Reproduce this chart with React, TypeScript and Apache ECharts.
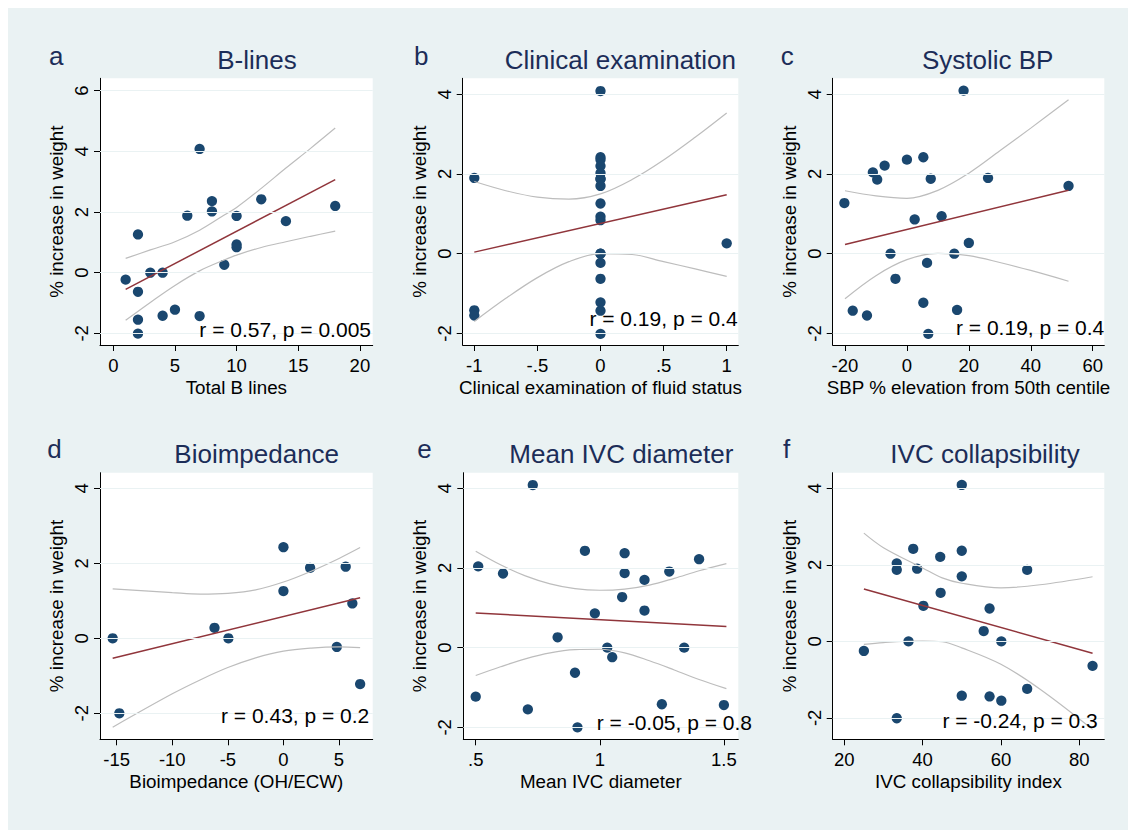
import React, { useEffect, useRef } from "react";
import * as echarts from "echarts";

// ---------- data ----------
const LETTERS = ["a", "b", "c", "d", "e", "f"];
const TITLES = ["B-lines", "Clinical examination", "Systolic BP", "Bioimpedance", "Mean IVC diameter", "IVC collapsibility"];
const X_TITLES = [
  "Total B lines",
  "Clinical examination of fluid status",
  "SBP % elevation from 50th centile",
  "Bioimpedance (OH/ECW)",
  "Mean IVC diameter",
  "IVC collapsibility index",
];
const Y_TITLE = "% increase in weight";
const STATS = [
  "r = 0.57, p = 0.005",
  "r = 0.19, p = 0.4",
  "r = 0.19, p = 0.4",
  "r = 0.43, p = 0.2",
  "r = -0.05, p = 0.8",
  "r = -0.24, p = 0.3",
];

const X_TICKS = [
  [0, 5, 10, 15, 20],
  [-1, -0.5, 0, 0.5, 1],
  [-20, 0, 20, 40, 60],
  [-15, -10, -5, 0, 5],
  [0.5, 1, 1.5],
  [20, 40, 60, 80],
];
const Y_TICKS = [
  [-2, 0, 2, 4, 6],
  [-2, 0, 2, 4],
  [-2, 0, 2, 4],
  [-2, 0, 2, 4],
  [-2, 0, 2, 4],
  [-2, 0, 2, 4],
];
const X_RANGE = [
  [-1.08, 21.04],
  [-1.092, 1.092],
  [-23.97, 63.75],
  [-16.5, 8.03],
  [0.45, 1.558],
  [17.04, 86.4],
];
const Y_RANGE = [
  [-2.385, 6.41],
  [-2.29, 4.4],
  [-2.29, 4.4],
  [-2.693, 4.416],
  [-2.3, 4.39],
  [-2.56, 4.41],
];

// panel a: B-lines
const xA = [1, 2, 2, 2, 2, 3, 4, 4, 5, 6, 7, 7, 8, 8, 9, 10, 10, 10, 12, 14, 18];
const yA = [-0.23, 1.26, -0.63, -1.55, -2.01, 0, 0, -1.42, -1.22, 1.88, 4.08, -1.43, 2.36, 2.02, 0.26, 1.87, 0.93, 0.84, 2.42, 1.7, 2.2];
const fitXA = [1, 18];
const fitYA = [-0.55, 3.07];
const ciXA = [1, 3, 5, 7, 9, 10, 12, 14, 16, 18];
const ciHiA = [0.47, 0.75, 1.02, 1.4, 1.9, 2.15, 2.78, 3.45, 4.1, 4.77];
const ciLoA = [-1.57, -0.98, -0.42, 0.06, 0.42, 0.58, 0.83, 1.02, 1.2, 1.37];

// panel b: clinical examination
const xB = [-1, -1, -1, 0, 0, 0, 0, 0, 0, 0, 0, 0, 0, 0, 0, 0, 0, 0, 0, 0, 0, 1];
const yB = [1.9, -1.42, -1.55, 4.08, 2.42, 2.36, 2.2, 2.02, 1.88, 1.87, 1.7, 1.26, 0.93, 0.84, 0, 0, -0.23, -0.63, -1.22, -1.43, -2.01, 0.26];
const fitXB = [-1, 1];
const fitYB = [0.04, 1.48];
const ciXB = [-1, -0.75, -0.5, -0.25, 0, 0.25, 0.5, 0.75, 1];
const ciHiB = [1.81, 1.58, 1.42, 1.37, 1.5, 1.86, 2.35, 2.92, 3.53];
const ciLoB = [-1.7, -1.12, -0.6, -0.2, 0.0, -0.02, -0.2, -0.38, -0.57];

// panel c: systolic BP
const xC = [-20.2, -17.5, -12.9, -11.0, -9.6, -7.2, -5.3, -3.7, 0, 2.5, 5.3, 5.3, 6.5, 6.9, 7.7, 11.2, 15.3, 16.2, 18.3, 20, 26.2, 52.2];
const yC = [1.27, -1.43, -1.55, 2.04, 1.86, 2.21, 0, -0.63, 2.36, 0.86, 2.42, -1.23, -0.23, -2.01, 1.88, 0.94, 0, -1.41, 4.09, 0.27, 1.9, 1.7];
const fitXC = [-20, 52.2];
const fitYC = [0.23, 1.59];
const ciXC = [-20, -10, 0, 10, 20, 30, 40, 52.2];
const ciHiC = [1.58, 1.45, 1.39, 1.59, 2.02, 2.58, 3.15, 3.86];
const ciLoC = [-1.13, -0.55, -0.15, 0.01, -0.05, -0.22, -0.42, -0.69];

// panel d: bioimpedance
const xD = [-15.36, -14.76, -6.2, -4.95, 0, 0, 2.4, 4.8, 5.6, 6.2, 6.9];
const yD = [0, -2.0, 0.28, 0, 2.43, 1.26, 1.88, -0.23, 1.91, 0.93, -1.22];
const fitXD = [-15.36, 6.9];
const fitYD = [-0.53, 1.08];
const ciXD = [-15.36, -10, -7.5, -5, -2.5, 0, 2.5, 5, 6.9];
const ciHiD = [1.32, 1.22, 1.18, 1.2, 1.29, 1.5, 1.79, 2.13, 2.42];
const ciLoD = [-2.37, -1.48, -1.11, -0.78, -0.52, -0.34, -0.26, -0.23, -0.25];

// panel e: mean IVC diameter
const xE = [0.5, 0.51, 0.61, 0.71, 0.73, 0.83, 0.9, 0.91, 0.94, 0.98, 1.03, 1.05, 1.09, 1.1, 1.1, 1.18, 1.18, 1.25, 1.28, 1.34, 1.4, 1.5];
const yE = [-1.23, 2.04, 1.86, -1.55, 4.08, 0.26, -0.63, -2.0, 2.43, 0.86, 0, -0.24, 1.27, 2.37, 1.87, 1.7, 0.93, -1.42, 1.91, 0, 2.22, -1.44];
const fitXE = [0.5, 1.51];
const fitYE = [0.87, 0.53];
const ciXE = [0.5, 0.6, 0.7, 0.8, 0.9, 1.0, 1.1, 1.2, 1.3, 1.4, 1.51];
const ciHiE = [2.42, 2.08, 1.8, 1.6, 1.48, 1.44, 1.47, 1.57, 1.74, 1.93, 2.11];
const ciLoE = [-0.7, -0.48, -0.28, -0.13, -0.05, -0.04, -0.13, -0.33, -0.56, -0.8, -1.03];

// panel f: IVC collapsibility
const xF = [25.0, 33.4, 33.4, 33.4, 36.4, 37.6, 38.6, 40.2, 44.5, 44.6, 50, 50, 50, 50, 55.6, 57.1, 57.1, 60.1, 60.1, 66.7, 66.7, 83.4];
const yF = [-0.25, 2.04, 1.87, -2.01, 0, 2.42, 1.9, 0.93, 2.21, 1.27, 4.09, 2.37, 1.7, -1.42, 0.27, 0.86, -1.44, 0, -1.55, 1.87, -1.24, -0.64];
const fitXF = [25, 83.4];
const fitYF = [1.37, -0.31];
const ciXF = [25, 30, 40, 45, 50, 60, 70, 83.4];
const ciHiF = [2.83, 2.45, 1.92, 1.66, 1.52, 1.4, 1.48, 1.69];
const ciLoF = [-0.08, -0.03, 0.01, -0.01, -0.17, -0.6, -1.25, -2.3];

const PANELS = [
  { x: xA, y: yA, fx: fitXA, fy: fitYA, cx: ciXA, hi: ciHiA, lo: ciLoA },
  { x: xB, y: yB, fx: fitXB, fy: fitYB, cx: ciXB, hi: ciHiB, lo: ciLoB },
  { x: xC, y: yC, fx: fitXC, fy: fitYC, cx: ciXC, hi: ciHiC, lo: ciLoC },
  { x: xD, y: yD, fx: fitXD, fy: fitYD, cx: ciXD, hi: ciHiD, lo: ciLoD },
  { x: xE, y: yE, fx: fitXE, fy: fitYE, cx: ciXE, hi: ciHiE, lo: ciLoE },
  { x: xF, y: yF, fx: fitXF, fy: fitYF, cx: ciXF, hi: ciHiF, lo: ciLoF },
];

// ---------- layout / style ----------
const FONT = '"Liberation Sans", Arial, Helvetica, sans-serif';
const BG = "#eaf2f3";
const DOT = "#1a476f";
const FIT = "#90353b";
const CI = "#bdbdbd";
const TITLE_COLOR = "#1c2d58";

const GRIDS = [
  { left: 92, top: 70.3, width: 272.7, height: 266.7 },
  { left: 454.7, top: 70.3, width: 275.6, height: 266.7 },
  { left: 824.7, top: 70.3, width: 271.6, height: 266.7 },
  { left: 92, top: 464.7, width: 272.7, height: 266.6 },
  { left: 455.3, top: 464.7, width: 275, height: 266.6 },
  { left: 824.7, top: 464.7, width: 271.6, height: 266.6 },
];
const LETTER_POS = [
  [41, 48], [406, 48], [772.7, 48],
  [39.3, 440.7], [409.3, 440.7], [775, 440.7],
];
const TITLE_POS = [
  [249, 52.3], [612.4, 52.3], [979.7, 52.3],
  [248.7, 446.3], [613.3, 446.3], [977, 446.3],
];
const STAT_POS = [
  [363, 321.2], [729.7, 310.8], [1096.3, 319.3],
  [361.3, 707], [744, 714], [1089.7, 712],
];

const fmt = (v: number) => String(v).replace(/^(-?)0\./, "$1.");
const pairs = (xs: number[], ys: number[]) => xs.map((x, i) => [x, ys[i]]);

function buildOption() {
  const grid = GRIDS.map((g) => ({
    ...g,
    show: true,
    backgroundColor: "#ffffff",
    borderWidth: 0,
    containLabel: false,
  }));

  const xAxis = GRIDS.map((_, i) => ({
    type: "value",
    gridIndex: i,
    min: X_RANGE[i][0],
    max: X_RANGE[i][1],
    name: X_TITLES[i],
    nameLocation: "middle",
    nameGap: 32.5,
    nameTextStyle: { fontSize: 18.8, color: "#000", fontFamily: FONT },
    axisLine: { show: true, onZero: false, lineStyle: { color: "#000", width: 1 } },
    axisTick: { show: true, length: 6, customValues: X_TICKS[i], lineStyle: { color: "#000", width: 1 } },
    axisLabel: {
      customValues: X_TICKS[i],
      formatter: fmt,
      fontSize: 18.5,
      color: "#000",
      fontFamily: FONT,
      margin: 11,
    },
    splitLine: { show: false },
  }));

  const yAxis = GRIDS.map((_, i) => ({
    type: "value",
    gridIndex: i,
    min: Y_RANGE[i][0],
    max: Y_RANGE[i][1],
    name: Y_TITLE,
    nameLocation: "middle",
    nameGap: 34,
    nameTextStyle: { fontSize: 18.8, color: "#000", fontFamily: FONT },
    axisLine: { show: true, onZero: false, lineStyle: { color: "#000", width: 1 } },
    axisTick: { show: true, length: 6, customValues: Y_TICKS[i], lineStyle: { color: "#000", width: 1 } },
    axisLabel: {
      customValues: Y_TICKS[i],
      formatter: fmt,
      rotate: 90,
      fontSize: 18.5,
      color: "#000",
      fontFamily: FONT,
      margin: 9,
    },
    splitLine: { show: false },
  }));

  const series: any[] = [];
  PANELS.forEach((p, i) => {
    series.push({
      type: "line",
      xAxisIndex: i,
      yAxisIndex: i,
      data: [],
      z: 1,
      silent: true,
      markLine: {
        silent: true,
        symbol: ["none", "none"],
        label: { show: false },
        emphasis: { disabled: true },
        lineStyle: { color: BG, width: 1, type: "solid" },
        data: Y_TICKS[i].map((v) => ({ yAxis: v })),
        animation: false,
      },
    });
    series.push({
      type: "scatter",
      xAxisIndex: i,
      yAxisIndex: i,
      data: pairs(p.x, p.y),
      symbol: "circle",
      symbolSize: 10.3,
      itemStyle: { color: DOT, opacity: 1 },
      z: 2,
      silent: true,
    });
    [p.hi, p.lo].forEach((ys) => {
      series.push({
        type: "line",
        xAxisIndex: i,
        yAxisIndex: i,
        data: pairs(p.cx, ys),
        smooth: 0.35,
        symbol: "none",
        showSymbol: false,
        lineStyle: { color: CI, width: 1.2 },
        z: 3,
        silent: true,
      });
    });
    series.push({
      type: "line",
      xAxisIndex: i,
      yAxisIndex: i,
      data: pairs(p.fx, p.fy),
      symbol: "none",
      showSymbol: false,
      lineStyle: { color: FIT, width: 1.5 },
      z: 4,
      silent: true,
    });
  });

  const graphic: any[] = [];
  GRIDS.forEach((_, i) => {
    graphic.push({
      type: "text",
      x: LETTER_POS[i][0],
      y: LETTER_POS[i][1],
      style: {
        text: LETTERS[i],
        font: `26px ${FONT}`,
        fill: TITLE_COLOR,
        textAlign: "left",
        textVerticalAlign: "middle",
      },
    });
    graphic.push({
      type: "text",
      x: TITLE_POS[i][0],
      y: TITLE_POS[i][1],
      style: {
        text: TITLES[i],
        font: `26px ${FONT}`,
        fill: TITLE_COLOR,
        textAlign: "center",
        textVerticalAlign: "middle",
      },
    });
    graphic.push({
      type: "text",
      x: STAT_POS[i][0],
      y: STAT_POS[i][1],
      z: 10,
      style: {
        text: STATS[i],
        font: `21px ${FONT}`,
        fill: "#000",
        textAlign: "right",
        textVerticalAlign: "middle",
      },
    });
  });

  return {
    animation: false,
    backgroundColor: BG,
    grid,
    xAxis,
    yAxis,
    series,
    graphic,
  };
}

export default function App() {
  const ref = useRef<HTMLDivElement>(null);
  useEffect(() => {
    const prevHtml = document.documentElement.style.overflow;
    const prevBody = document.body.style.overflow;
    document.documentElement.style.overflow = "hidden";
    document.body.style.overflow = "hidden";
    if (!ref.current) return;
    const chart = echarts.init(ref.current, undefined, { renderer: "svg" });
    chart.setOption(buildOption() as any);
    return () => {
      chart.dispose();
      document.documentElement.style.overflow = prevHtml;
      document.body.style.overflow = prevBody;
    };
  }, []);
  return <div ref={ref} style={{ width: 1136, height: 830 }} />;
}
